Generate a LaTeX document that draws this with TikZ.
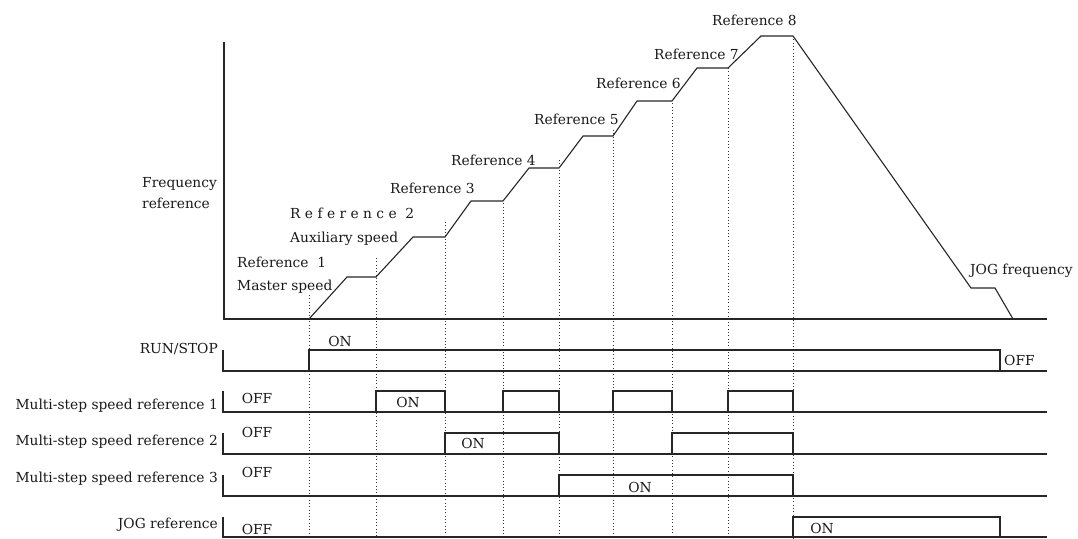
\documentclass[tikz,border=0pt]{standalone}
\usepackage{fontspec}
\setmainfont{DejaVu Serif}
\begin{document}
\begin{tikzpicture}[x=1pt,y=-1pt,
  sig/.style={black!85,line width=1.1pt},
  guide/.style={black!80,line width=0.9pt,dash pattern=on 0.9pt off 2.4pt},
  lbl/.style={text=black!90,inner sep=0pt,font=\fontsize{13.8}{16}\selectfont}]
  \useasboundingbox (0,0) rectangle (1078,538);

  % Frequency axes
  \draw[sig] (224,42) -- (224,319) -- (1047,319);
  \node[lbl,anchor=base west] (freqa) at (142,187) {Frequency};
  \node[lbl,anchor=base west] (freqb) at (142,208) {reference};

  % Speed profile (eight references, then JOG)
  \draw[sig] (309,319) -- (347,277) -- (376,277) -- (413,237) -- (445,237)
    -- (471,201) -- (503,201) -- (529,168) -- (559,168) -- (583,136)
    -- (613,136) -- (637,101) -- (672,101) -- (697,68) -- (728,68)
    -- (761,36) -- (793,36) -- (971,288) -- (995,288) -- (1013,319);

  % Step labels
  \node[lbl,anchor=base west] (ref1) at (237,267) {Reference\ \ 1};
  \node[lbl,anchor=base west] (master) at (237,290) {Master speed};
  \node[lbl,anchor=base west] (ref2) at (290,218) {R e f e r e n c e\ \ 2};
  \node[lbl,anchor=base west] (aux) at (290,242) {Auxiliary speed};
  \node[lbl,anchor=base west] (ref3) at (390,193) {Reference 3};
  \node[lbl,anchor=base west] (ref4) at (451,165) {Reference 4};
  \node[lbl,anchor=base west] (ref5) at (534,124) {Reference 5};
  \node[lbl,anchor=base west] (ref6) at (596,88) {Reference 6};
  \node[lbl,anchor=base west] (ref7) at (654,59) {Reference 7};
  \node[lbl,anchor=base west] (ref8) at (712,25) {Reference 8};
  \node[lbl,anchor=base west] (jogf) at (970,274) {JOG frequency};

  % Timing guides
  \draw[guide] (309,295) -- (309,538);
  \draw[guide] (376,258) -- (376,538);
  \draw[guide] (445,222) -- (445,538);
  \draw[guide] (503,200) -- (503,538);
  \draw[guide] (559,160) -- (559,538);
  \draw[guide] (613,130) -- (613,538);
  \draw[guide] (672,100) -- (672,538);
  \draw[guide] (728,68) -- (728,538);
  \draw[guide] (793,36) -- (793,538);

  % RUN/STOP
  \node[lbl,anchor=base east] (runlbl) at (218,353) {RUN/STOP};
  \draw[sig] (223,350) -- (223,371) -- (1047,371);
  \draw[sig] (309,371) -- (309,350) -- (1000,350) -- (1000,371);
  \node[lbl,anchor=base] (runon) at (340,346) {ON};
  \node[lbl,anchor=base west] (runoff) at (1004,365) {OFF};

  % Multi-step speed reference 1
  \node[lbl,anchor=base east] (msalbl) at (218,409) {Multi-step speed reference 1};
  \draw[sig] (223,391) -- (223,412) -- (1047,412);
  \draw[sig] (376,412) -- (376,391) -- (445,391) -- (445,412);
  \draw[sig] (503,412) -- (503,391) -- (559,391) -- (559,412);
  \draw[sig] (613,412) -- (613,391) -- (672,391) -- (672,412);
  \draw[sig] (728,412) -- (728,391) -- (793,391) -- (793,412);
  \node[lbl,anchor=base] (msaoff) at (257,403) {OFF};
  \node[lbl,anchor=base] (msaon) at (408,407) {ON};

  % Multi-step speed reference 2
  \node[lbl,anchor=base east] (msblbl) at (218,445) {Multi-step speed reference 2};
  \draw[sig] (223,433) -- (223,454) -- (1047,454);
  \draw[sig] (445,454) -- (445,433) -- (559,433) -- (559,454);
  \draw[sig] (672,454) -- (672,433) -- (793,433) -- (793,454);
  \node[lbl,anchor=base] (msboff) at (257,437) {OFF};
  \node[lbl,anchor=base] (msbon) at (473,448) {ON};

  % Multi-step speed reference 3
  \node[lbl,anchor=base east] (msclbl) at (218,482) {Multi-step speed reference 3};
  \draw[sig] (223,475) -- (223,496) -- (1047,496);
  \draw[sig] (559,496) -- (559,475) -- (793,475) -- (793,496);
  \node[lbl,anchor=base] (mscoff) at (257,477) {OFF};
  \node[lbl,anchor=base] (mscon) at (640,492) {ON};

  % JOG reference
  \node[lbl,anchor=base east] (joglbl) at (218,528) {JOG reference};
  \draw[sig] (223,517) -- (223,537) -- (1047,537);
  \draw[sig] (793,537) -- (793,517) -- (1000,517) -- (1000,537);
  \node[lbl,anchor=base] (jogoff) at (257,534) {OFF};
  \node[lbl,anchor=base] (jogon) at (822,533) {ON};
\end{tikzpicture}
\end{document}
